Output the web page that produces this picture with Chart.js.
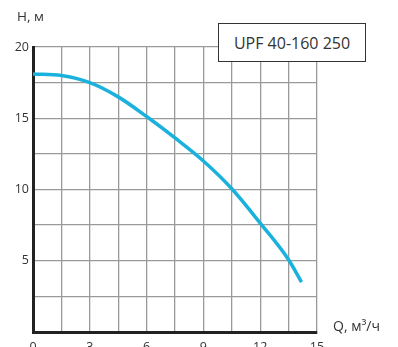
<!DOCTYPE html>
<html>
<head>
<meta charset="utf-8">
<script src="https://cdn.jsdelivr.net/npm/chart.js@4"></script>
<style>
  html, body { margin:0; padding:0; background:#fff; }
  #wrap { position:relative; width:398px; height:347px; overflow:hidden; font-family:"Open Sans", sans-serif; color:#333; }
  canvas { position:absolute; left:0; top:0; }
  .lbl { position:absolute; white-space:nowrap; line-height:1; }
  #ytitle { left:17px; top:10px; font-size:13.5px; }
  #xtitle { left:333px; top:319px; font-size:14px; }
  #box { position:absolute; left:218px; top:23px; width:146px; height:37px; border:1.5px solid #333; background:#fff;
         font-size:16px; display:flex; align-items:center; justify-content:center; }
</style>
</head>
<body>
<div id="wrap">
  <canvas id="c" width="398" height="347"></canvas>
  <div class="lbl" id="ytitle">H, м</div>
  <div class="lbl" id="xtitle">Q, м³/ч</div>
  <div id="box">UPF 40-160 250</div>
</div>
<script>
const flowQ = [0, 1.5, 3, 4.5, 6, 7.5, 9, 10.5, 12, 13.5, 14.18];
const headH = [18.1, 18.0, 17.5, 16.5, 15.12, 13.62, 12.0, 10.05, 7.64, 5.07, 3.5];
const xTickLabels = [0, 3, 6, 9, 12, 15];
const yTickLabels = [5, 10, 15, 20];

const points = flowQ.map((q, i) => ({ x: q, y: headH[i] }));

new Chart(document.getElementById('c'), {
  type: 'line',
  data: {
    datasets: [{
      data: points,
      borderColor: '#1ab2dc',
      borderWidth: 3.5,
      pointRadius: 0,
      cubicInterpolationMode: 'monotone',
      fill: false
    }]
  },
  options: {
    responsive: false,
    animation: false,
    layout: { padding: { left: 0, top: 47, right: 81, bottom: 0 } },
    plugins: { legend: { display: false }, tooltip: { enabled: false } },
    scales: {
      x: {
        type: 'linear', min: 0, max: 15,
        afterFit: s => { s.height = 15; },
        afterBuildTicks: s => { s.ticks = []; for (let i = 0; i <= 10; i++) s.ticks.push({ value: i * 1.5 }); },
        ticks: {
          padding: 8, color: '#333', maxRotation: 0, autoSkip: false,
          font: { family: 'Open Sans', size: 12.5 },
          callback: v => xTickLabels.includes(v) ? String(v) : ''
        },
        grid: { color: '#9a9a9a', lineWidth: 1.3, drawTicks: false },
        border: { color: '#222', width: 3 }
      },
      y: {
        type: 'linear', min: 0, max: 20,
        afterFit: s => { s.width = 33; },
        afterBuildTicks: s => { s.ticks = []; for (let i = 0; i <= 8; i++) s.ticks.push({ value: i * 2.5 }); },
        ticks: {
          padding: 4, color: '#333', autoSkip: false,
          font: { family: 'Open Sans', size: 12.5 },
          callback: v => yTickLabels.includes(v) ? String(v) : ''
        },
        grid: { color: '#9a9a9a', lineWidth: 1.3, drawTicks: false },
        border: { color: '#222', width: 3 }
      }
    }
  }
});
</script>
</body>
</html>
